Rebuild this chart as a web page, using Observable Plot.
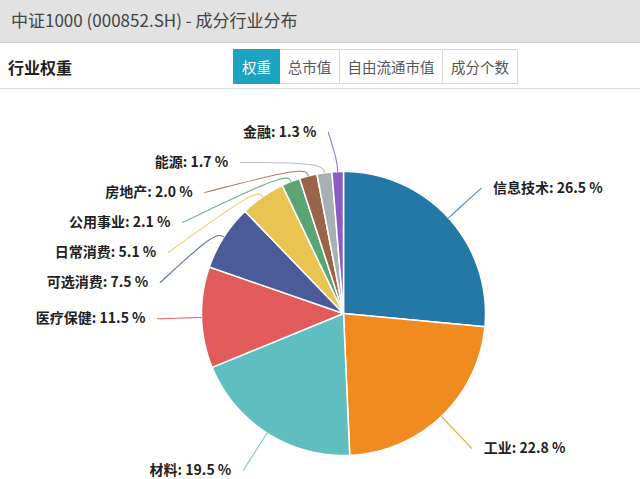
<!DOCTYPE html>
<html>
<head>
<meta charset="utf-8">
<script src="https://cdn.jsdelivr.net/npm/d3@7"></script>
<script src="https://cdn.jsdelivr.net/npm/@observablehq/plot@0.6"></script>
<style>
  html, body { margin: 0; padding: 0; background: #fff; }
  body { width: 640px; height: 479px; overflow: hidden; font-family: "Noto Sans CJK SC", "Noto Sans", sans-serif; }
  #title { height: 43px; background: #e2e2e2; border-bottom: 1px solid #cfcfcf; box-sizing: border-box;
           color: #444; font-size: 17px; line-height: 40px; padding-left: 11px; }
  #bar { position: relative; height: 46px; border-bottom: 1px solid #dcdcdc; box-sizing: border-box; }
  #bar .h { position: absolute; left: 8px; top: 10px; font-size: 16px; font-weight: bold; color: #222; line-height: 28px; }
  #tabs { position: absolute; left: 233px; top: 6px; display: flex; height: 35px; }
  #tabs div { box-sizing: border-box; height: 35px; line-height: 33px; border: 1px solid #d6d6d6; border-left: none;
              font-size: 14.5px; color: #555; text-align: center; }
  #tabs div:first-child { border-left: 1px solid #d6d6d6; }
  #tabs div.on { background: #1ba3c1; border-color: #1ba3c1; color: #fff; }
  #chart { height: 390px; }
</style>
</head>
<body>
<div id="title"></div>
<div id="bar"><div class="h"></div><div id="tabs"></div></div>
<div id="chart"></div>
<script>
// ---- data ----
const titleText = "中证1000 (000852.SH) - 成分行业分布";
const sectionTitle = "行业权重";
const tabLabels = ["权重", "总市值", "自由流通市值", "成分个数"];
const tabWidths = [47, 60, 103, 75];
const industries = ["信息技术", "工业", "材料", "医疗保健", "可选消费", "日常消费", "公用事业", "房地产", "能源", "金融"];
const weights = [26.5, 22.8, 19.5, 11.5, 7.5, 5.1, 2.1, 2.0, 1.7, 1.3];
const colors = ["#2378a6", "#f28b1f", "#60bdc0", "#e15b5b", "#4b5b97", "#e9c452", "#5ba575", "#986549", "#a8b0b6", "#8b5cc2"];

// ---- header ----
document.getElementById("title").textContent = titleText;
document.querySelector("#bar .h").textContent = sectionTitle;
const tabs = document.getElementById("tabs");
tabLabels.forEach((t, i) => {
  const d = document.createElement("div");
  d.textContent = t;
  d.style.width = tabWidths[i] + "px";
  if (i === 0) d.className = "on";
  tabs.appendChild(d);
});

// ---- layout (pixels -> unit circle coordinates) ----
const W = 640, H = 390;
const cxPx = 343, cyPx = 224, rPx = 142;
const xDomain = [-cxPx / rPx, (W - cxPx) / rPx];
const yDomain = [-(H - cyPx) / rPx, cyPx / rPx];
const Rlab = 186 / rPx;        // label anchor radius
const len1 = 10 / rPx;         // first leader segment
const gap = 12 / rPx;          // gap between leader end and text
const spacing = 30 / rPx;      // min vertical spacing between labels
const topBound = (cyPx - 43) / rPx;

const arcs = d3.pie().sort(null).value(d => d)(weights);

// slice polygons
const slicePts = [];
arcs.forEach((a, i) => {
  slicePts.push({i, x: 0, y: 0});
  const n = Math.max(2, Math.ceil((a.endAngle - a.startAngle) / 0.01));
  for (let k = 0; k <= n; k++) {
    const t = a.startAngle + (a.endAngle - a.startAngle) * k / n;
    slicePts.push({i, x: Math.sin(t), y: Math.cos(t)});
  }
});

// labels
const labs = arcs.map((a, i) => {
  const m = (a.startAngle + a.endAngle) / 2;
  return {i, m, side: Math.sin(m) < 0 ? -1 : 1, nx: Rlab * Math.sin(m), ny: Rlab * Math.cos(m),
          text: `${industries[i]}: ${weights[i].toFixed(1)} %`};
});
[-1, 1].forEach(side => {
  const list = labs.filter(l => l.side === side).sort((a, b) => b.ny - a.ny);
  let prev = null;
  list.forEach(l => {
    l.y = prev === null ? Math.min(l.ny, topBound) : Math.min(l.ny, prev - spacing);
    prev = l.y;
  });
  const upper = list.filter(l => l.y > 0);
  const rB = d3.max(upper, l => l.y) + 0.6 / rPx;
  list.forEach(l => {
    if (side === -1 && l.y > 0) {
      l.x = -Rlab * Math.sqrt(Math.max(0, 1 - (l.y * l.y) / (rB * rB)));
    } else {
      l.x = l.nx;
    }
    l.tx = l.x + side * gap;
  });
});

const linePts = [];
labs.forEach(l => {
  linePts.push({i: l.i, x: Math.sin(l.m), y: Math.cos(l.m)});
  linePts.push({i: l.i, x: (1 + len1) * Math.sin(l.m), y: (1 + len1) * Math.cos(l.m)});
  linePts.push({i: l.i, x: l.x, y: l.y});
});

const colorOf = i => colors[i];
const textOpts = {x: "tx", y: "y", text: "text", lineAnchor: "middle",
  fontSize: 14, fontWeight: "bold", fill: "#222"};

const chart = Plot.plot({
  width: W, height: H, margin: 0,
  x: {domain: xDomain, axis: null},
  y: {domain: yDomain, axis: null},
  style: {fontFamily: "Noto Sans CJK SC, sans-serif", background: "#fff"},
  marks: [
    Plot.line(slicePts, {x: "x", y: "y", z: "i", curve: "linear-closed",
      fill: d => colorOf(d.i), stroke: "#fff", strokeWidth: 1.5, strokeLinejoin: "round"}),
    Plot.line(linePts, {x: "x", y: "y", z: "i", curve: "basis",
      stroke: d => colorOf(d.i), strokeWidth: 1.1, strokeOpacity: 0.85}),
    Plot.text(labs.filter(l => l.side < 0), {...textOpts, textAnchor: "end"}),
    Plot.text(labs.filter(l => l.side > 0), {...textOpts, textAnchor: "start"})
  ]
});
document.getElementById("chart").appendChild(chart);
</script>
</body>
</html>
